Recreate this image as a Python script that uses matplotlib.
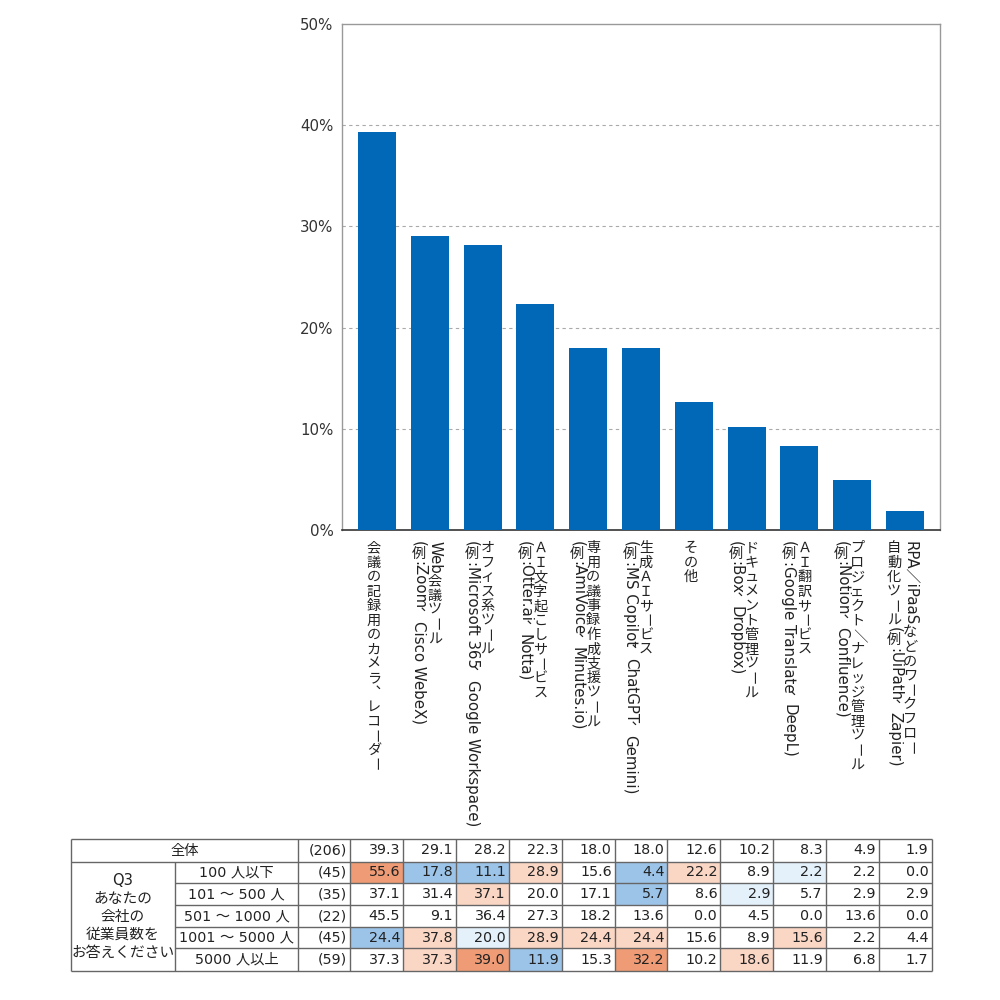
import matplotlib
matplotlib.use("Agg")
import matplotlib.pyplot as plt
import matplotlib.patches as mpatches
import numpy as np

plt.rcParams['font.family'] = ['Noto Sans CJK JP', 'DejaVu Sans']
LATIN = ['DejaVu Sans', 'Noto Sans CJK JP']

# ---------------- data ----------------
categories = [
    "会議の記録用のカメラ、レコーダー",
    "Web会議ツール\n(例:Zoom、Cisco WebeX)",
    "オフィス系ツール\n(例:Microsoft 365、Google Workspace)",
    "ＡＩ文字起こしサービス\n(例:Otter.ai、Notta)",
    "専用の議事録作成支援ツール\n(例:AmiVoice、Minutes.io)",
    "生成ＡＩサービス\n(例:MS Copilot、ChatGPT、Gemini)",
    "その他",
    "ドキュメント管理ツール\n(例:Box、Dropbox)",
    "ＡＩ翻訳サービス\n(例:Google Translate、DeepL)",
    "プロジェクト／ナレッジ管理ツール\n(例:Notion、Confluence)",
    "RPA／iPaaSなどのワークフロー\n自動化ツール(例:UiPath、Zapier)",
]
overall = [39.3, 29.1, 28.2, 22.3, 18.0, 18.0, 12.6, 10.2, 8.3, 4.9, 1.9]
total_label = "全体"
total_n = 206

question_label = ["Q3", "あなたの", "会社の", "従業員数を", "お答えください"]
groups = ["100 人以下", "101 ～ 500 人", "501 ～ 1000 人", "1001 ～ 5000 人", "5000 人以上"]
group_n = [45, 35, 22, 45, 59]
g_le100 = [55.6, 17.8, 11.1, 28.9, 15.6, 4.4, 22.2, 8.9, 2.2, 2.2, 0.0]
g_101_500 = [37.1, 31.4, 37.1, 20.0, 17.1, 5.7, 8.6, 2.9, 5.7, 2.9, 2.9]
g_501_1000 = [45.5, 9.1, 36.4, 27.3, 18.2, 13.6, 0.0, 4.5, 0.0, 13.6, 0.0]
g_1001_5000 = [24.4, 37.8, 20.0, 28.9, 24.4, 24.4, 15.6, 8.9, 15.6, 2.2, 4.4]
g_ge5000 = [37.3, 37.3, 39.0, 11.9, 15.3, 32.2, 10.2, 18.6, 11.9, 6.8, 1.7]
group_values = [g_le100, g_101_500, g_501_1000, g_1001_5000, g_ge5000]

yticks = [0, 10, 20, 30, 40, 50]

# ---------------- style ----------------
BAR = '#0068B7'
C_HI2 = '#EF9C76'
C_HI1 = '#FAD6C5'
C_LO2 = '#9CC4E8'
C_LO1 = '#E4F1FB'
TXT = '#222222'
LINE = '#666666'

W, H = 1000, 1000
fig = plt.figure(figsize=(10, 10), dpi=100)
renderer = fig.canvas.get_renderer()

ax = fig.add_axes([342 / W, 1 - 530 / H, 598 / W, 506 / H])
x = np.arange(len(overall))
ax.bar(x, overall, width=0.72, color=BAR, zorder=3)
ax.set_xlim(-0.66, len(overall) - 1 + 0.66)
ax.set_ylim(0, 50)
ax.set_yticks(yticks)
ax.set_yticklabels([f"{v}%" for v in yticks], family=LATIN)
ax.set_xticks([])
ax.tick_params(axis='y', length=0, pad=6, labelsize=10.8, labelcolor='#333333')
for v in yticks[1:-1]:
    ax.axhline(v, color='#AAAAAA', lw=0.8, ls=(0, (3, 3)), zorder=1)
for s in ['left', 'top', 'right']:
    ax.spines[s].set_color('#999999')
    ax.spines[s].set_linewidth(1.0)
ax.spines['bottom'].set_color('#333333')
ax.spines['bottom'].set_linewidth(1.2)

# overlay axes in pixel coordinates (y down)
ov = fig.add_axes([0, 0, 1, 1], zorder=5)
ov.set_xlim(0, W)
ov.set_ylim(H, 0)
ov.axis('off')


def to_px(xd, yd):
    dx, dy = ax.transData.transform((xd, yd))
    return dx, H - dy


# ---------------- vertical (tategaki) labels ----------------
FS = 10.2
FS_LAT = 10.8
ADV = FS * 100 / 72 * 1.02
ROT_CHARS = set("／ー")


def is_rot(ch):
    return (ord(ch) < 128) or ch in ROT_CHARS


def tokens(s):
    out = []
    buf = ""
    for ch in s:
        if is_rot(ch):
            buf += ch
        else:
            if buf:
                out.append(("rot", buf))
                buf = ""
            out.append(("up", ch))
    if buf:
        out.append(("rot", buf))
    return out


def draw_vertical_line(xc, ytop, s):
    y = ytop
    toks = tokens(s)
    for k, (kind, t) in enumerate(toks):
        if kind == "rot":
            fam = LATIN if any(ord(c) < 128 for c in t) else None
            fs = FS_LAT if fam else FS
            txt = ov.text(xc + 0.5, y, t, rotation=270, ha='center', va='top',
                          fontsize=fs, color=TXT, family=fam)
            bb = txt.get_window_extent(renderer)
            y += bb.height
        else:
            if t == "、":
                prev_rot = k > 0 and toks[k - 1][0] == "rot"
                next_rot = k + 1 < len(toks) and toks[k + 1][0] == "rot"
                adv = ADV * 0.8 if (prev_rot and next_rot) else ADV
                ov.text(xc, y + adv / 2, "︑", ha='center', va='center',
                        fontsize=FS, color=TXT)
                y += adv
            else:
                ov.text(xc, y + ADV / 2, t, ha='center', va='center',
                        fontsize=FS, color=TXT)
                y += ADV


LINE_GAP = 16.0
for i, lab in enumerate(categories):
    lines = lab.split("\n")
    cx, _ = to_px(i, 0)
    n = len(lines)
    for k, ln in enumerate(lines):
        xl = cx - 3 + ((n - 1) / 2 - k) * LINE_GAP
        draw_vertical_line(xl, 541, ln)

# ---------------- table ----------------
row_edges = [839, 862, 883, 905, 927, 948, 971]
x_left, x_q, x_grp = 71, 175, 298
col_edges = [to_px(i - 0.5, 0)[0] for i in range(len(overall))] + [to_px(len(overall) - 0.5, 0)[0]]
x_right = col_edges[-1]
TFS = 10.3


def cell_color(v, base):
    d = v - base
    if d >= 10:
        return C_HI2
    if d >= 5:
        return C_HI1
    if d <= -10:
        return C_LO2
    if d <= -5:
        return C_LO1
    return None


for r, vals in enumerate(group_values):
    if group_n[r] < 30:
        continue
    y0, y1 = row_edges[r + 1], row_edges[r + 2]
    for j, v in enumerate(vals):
        c = cell_color(v, overall[j])
        if c:
            ov.add_patch(mpatches.Rectangle((col_edges[j], y0), col_edges[j + 1] - col_edges[j],
                                            y1 - y0, facecolor=c, edgecolor='none', zorder=1))


def hline(y, x0, x1):
    ov.plot([x0, x1], [y, y], color=LINE, lw=1.0, zorder=3, solid_capstyle='butt')


def vline(xv, y0, y1):
    ov.plot([xv, xv], [y0, y1], color=LINE, lw=1.0, zorder=3, solid_capstyle='butt')


hline(row_edges[0], x_left, x_right)
hline(row_edges[1], x_left, x_right)
for y in row_edges[2:-1]:
    hline(y, x_q, x_right)
hline(row_edges[-1], x_left, x_right)
vline(x_left, row_edges[0], row_edges[-1])
vline(x_q, row_edges[1], row_edges[-1])
vline(x_grp, row_edges[0], row_edges[-1])
for xe in col_edges:
    vline(xe, row_edges[0], row_edges[-1])

ymid = [(row_edges[k] + row_edges[k + 1]) / 2 for k in range(len(row_edges) - 1)]
ov.text((x_left + x_grp) / 2, ymid[0], total_label, ha='center', va='center', fontsize=TFS, color=TXT)
ov.text(col_edges[0] - 3, ymid[0], f"({total_n})", ha='right', va='center', fontsize=TFS,
        color=TXT, family=LATIN)
for j, v in enumerate(overall):
    ov.text(col_edges[j + 1] - 3, ymid[0], f"{v:.1f}", ha='right', va='center', fontsize=TFS,
            color=TXT, family=LATIN)

for r, (g, nn, vals) in enumerate(zip(groups, group_n, group_values)):
    ym = ymid[r + 1]
    ov.text((x_q + x_grp) / 2, ym, g, ha='center', va='center', fontsize=TFS, color=TXT, family=LATIN)
    ov.text(col_edges[0] - 3, ym, f"({nn})", ha='right', va='center', fontsize=TFS, color=TXT,
            family=LATIN)
    for j, v in enumerate(vals):
        ov.text(col_edges[j + 1] - 3, ym, f"{v:.1f}", ha='right', va='center', fontsize=TFS,
                color=TXT, family=LATIN)

qc = (row_edges[1] + row_edges[-1]) / 2
nq = len(question_label)
for k, q in enumerate(question_label):
    ov.text((x_left + x_q) / 2, qc + (k - (nq - 1) / 2) * 17.8, q, ha='center', va='center',
            fontsize=TFS + 0.3, color=TXT, family=LATIN)

fig.savefig("out.png", dpi=100, facecolor='white')
